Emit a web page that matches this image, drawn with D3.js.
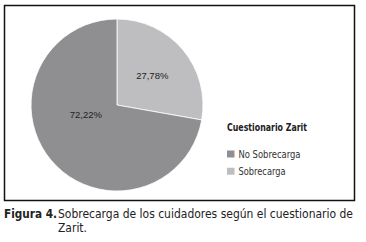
<!DOCTYPE html>
<html><head><meta charset="utf-8">
<script src="https://cdn.jsdelivr.net/npm/d3@7"></script>
<style>body{margin:0;background:#fff}svg{display:block}</style>
</head><body>
<script>
const categories = ["Sobrecarga", "No Sobrecarga"];
const values = [27.78, 72.22];
const labels = ["27,78%", "72,22%"];
const legendOrder = ["No Sobrecarga", "Sobrecarga"];
const legendTitle = "Cuestionario Zarit";
const colors = {"Sobrecarga": "#bebec0", "No Sobrecarga": "#8f8f91"};

const W = 366, H = 242;
const svg = d3.select("body").append("svg").attr("width", W).attr("height", H);
svg.append("rect").attr("width", W).attr("height", H).attr("fill", "#fff");
svg.append("rect").attr("x", 4.5).attr("y", 5.5).attr("width", 350).attr("height", 195)
  .attr("fill", "none").attr("stroke", "#111").attr("stroke-width", 1.5);

const cx = 117, cy = 105, r = 86;
const pie = d3.pie().sort(null).value(d => d.v);
const data = pie(categories.map((c, i) => ({c, v: values[i], l: labels[i]})));
const arc = d3.arc().innerRadius(0).outerRadius(r);
const g = svg.append("g").attr("transform", `translate(${cx},${cy})`);
g.selectAll("path").data(data).join("path")
  .attr("d", arc).attr("fill", d => colors[d.data.c])
  .attr("stroke", "#fff").attr("stroke-width", 0.8);
function labelPos(d) {
  const big = (d.endAngle - d.startAngle) > Math.PI;
  const a = big ? d.startAngle + (d.endAngle - d.startAngle) * 0.585 : (d.startAngle + d.endAngle) / 2;
  const rr = big ? r * 0.38 : r * 0.535;
  return [Math.sin(a) * rr, -Math.cos(a) * rr];
}
g.selectAll("text").data(data).join("text")
  .attr("transform", d => `translate(${labelPos(d)})`)
  .attr("text-anchor", "middle").attr("dy", "0.35em")
  .attr("font-family", "Liberation Sans, Arial, sans-serif").attr("font-size", 9.5)
  .attr("fill", "#222").text(d => d.data.l);

const cond = "'DejaVu Sans Condensed', 'Liberation Sans', sans-serif";
const lg = svg.append("g").attr("transform", "translate(227,0)");
lg.append("text").attr("x", 0).attr("y", 131).attr("font-family", cond)
  .attr("font-weight", "bold").attr("font-size", 11).attr("fill", "#222")
  .attr("textLength", 80).attr("lengthAdjust", "spacingAndGlyphs").text(legendTitle);
const ly = d3.scaleBand().domain(legendOrder).range([149.5, 166.5 + 17.5]).paddingInner(0);
const legW = {"No Sobrecarga": 62, "Sobrecarga": 47};
legendOrder.forEach(c => {
  lg.append("rect").attr("x", 0).attr("y", ly(c) + 1).attr("width", 7.5).attr("height", 7)
    .attr("fill", colors[c]);
  lg.append("text").attr("x", 11.5).attr("y", ly(c) + 8).attr("font-family", cond)
    .attr("font-size", 10.5).attr("fill", "#333")
    .attr("textLength", legW[c]).attr("lengthAdjust", "spacingAndGlyphs").text(c);
});

const cap = svg.append("text").attr("x", 4).attr("y", 217.5).attr("font-family", cond)
  .attr("font-size", 12).attr("fill", "#222");
cap.append("tspan").attr("font-weight", "bold")
  .attr("textLength", 53).attr("lengthAdjust", "spacingAndGlyphs").text("Figura 4.");
cap.append("tspan").attr("x", 58)
  .attr("textLength", 295).attr("lengthAdjust", "spacingAndGlyphs")
  .text("Sobrecarga de los cuidadores según el cuestionario de");
svg.append("text").attr("x", 58).attr("y", 232).attr("font-family", cond)
  .attr("font-size", 12).attr("fill", "#222")
  .attr("textLength", 29).attr("lengthAdjust", "spacingAndGlyphs").text("Zarit.");
</script>
</body></html>
